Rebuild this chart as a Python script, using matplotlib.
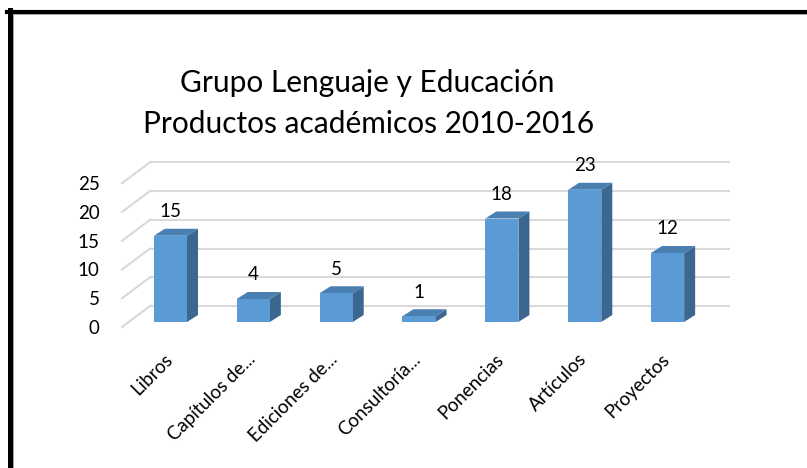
import matplotlib.pyplot as plt
from matplotlib.patches import Polygon, Rectangle
from matplotlib.lines import Line2D

plt.rcParams['font.family'] = ['Lato', 'DejaVu Sans']

# datos
categorias = ['Libros', 'Capítulos de...', 'Ediciones de...', 'Consultoría...',
              'Ponencias', 'Artículos', 'Proyectos']
valores = [15, 4, 5, 1, 18, 23, 12]
marcas_y = [0, 5, 10, 15, 20, 25]
titulo = ['Grupo Lenguaje y Educación', 'Productos académicos 2010-2016']

W, H = 807, 468
fig = plt.figure(figsize=(W / 100, H / 100), dpi=100)

# plano frontal en pixeles
x0, x1 = 122, 702
y0 = 327
ppu = 5.75
ymax = 30
ax = fig.add_axes([x0 / W, 1 - y0 / H, (x1 - x0) / W, ymax * ppu / H])
n = len(categorias)
ax.set_xlim(-0.5, n - 0.5)
ax.set_ylim(0, ymax)
sx = (x1 - x0) / n  # px por categoria
sy = ppu

# profundidad (px -> datos)
pdx, pdy = 28 / sx, 21 / sy       # pared de fondo
fdx, fdy = 7 / sx, 5 / sy         # cara frontal de las barras
bdx, bdy = 11 / sx, 7 / sy        # grosor de la barra
ancho = 0.4

gris = '#d9d9d9'
for v in marcas_y:
    ax.plot([-0.5 + pdx, n - 0.5 + pdx], [v + pdy, v + pdy], color=gris, lw=1.5,
            zorder=1, clip_on=False, solid_capstyle='butt')
    ax.plot([-0.5, -0.5 + pdx], [v, v + pdy], color=gris, lw=1.5, zorder=1,
            clip_on=False)

frente = '#5b9bd5'
lado = '#3b6791'
tapa = '#4a7fb2'
for i, v in enumerate(valores):
    xl = i - ancho / 2 + fdx
    xr = i + ancho / 2 + fdx
    yb = fdy
    yt = v + fdy
    ax.add_patch(Polygon([(xr, yb), (xr + bdx, yb + bdy), (xr + bdx, yt + bdy), (xr, yt)],
                         closed=True, fc=lado, ec='none', zorder=2))
    ax.add_patch(Polygon([(xl, yt), (xr, yt), (xr + bdx, yt + bdy), (xl + bdx, yt + bdy)],
                         closed=True, fc=tapa, ec='none', zorder=2))
    ax.add_patch(Rectangle((xl, yb), xr - xl, yt - yb, fc=frente, ec='none', zorder=3))
    ax.text(i + fdx, yt + 24 / sy, str(v), ha='center', va='center', fontsize=13.5,
            color='#000000', zorder=4)

for s in ax.spines.values():
    s.set_visible(False)
ax.set_yticks(marcas_y)
ax.set_yticklabels([str(v) for v in marcas_y], fontsize=13.5)
ax.tick_params(axis='y', length=0, pad=16)
ax.set_xticks(range(n))
ax.set_xticklabels(categorias, rotation=45, ha='right', va='top',
                   rotation_mode='anchor', fontsize=13.5)
ax.tick_params(axis='x', length=0, pad=17)
ax.patch.set_visible(False)

fig.text(367 / W, 1 - 92 / H, titulo[0], ha='center', va='baseline', fontsize=21.5)
fig.text(369 / W, 1 - 133 / H, titulo[1], ha='center', va='baseline', fontsize=21.5)

# marco
fig.add_artist(Line2D([7 / W, 1], [1 - 11.5 / H, 1 - 11.5 / H], color='black', lw=3))
fig.add_artist(Line2D([9.5 / W, 9.5 / W], [1 - 10 / H, 0], color='black', lw=3.6))
fig.add_artist(Line2D([13 / W, 1], [1 - 14 / H, 1 - 14 / H], color='#a0a0a0', lw=0.7))
fig.add_artist(Line2D([12.8 / W, 12.8 / W], [1 - 14 / H, 0], color='#a0a0a0', lw=0.7))

fig.savefig('out.png', dpi=100)
